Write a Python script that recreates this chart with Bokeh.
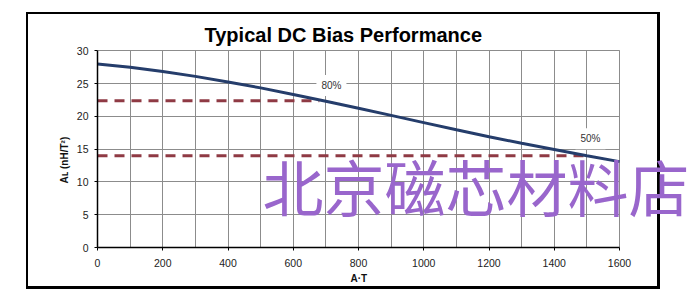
from bokeh.plotting import figure
from bokeh.models import (Range1d, SingleIntervalTicker, Label, Title,
                          ColumnDataSource)
from bokeh.embed import file_html
from bokeh.resources import INLINE

# ---- data ----
at_values = [0, 100, 200, 300, 400, 500, 600, 700, 800, 900, 1000,
             1100, 1200, 1300, 1400, 1500, 1600]
al_values = [28.0, 27.5, 26.85, 26.1, 25.25, 24.35, 23.35, 22.3, 21.25, 20.15,
             19.05, 17.95, 16.9, 15.9, 14.95, 14.0, 13.1]
ref_names = ["80%", "50%"]
ref_levels = [22.4, 14.0]
ref_ends = [680, 1500]
title_text = "Typical DC Bias Performance"
x_title = "A·T"
y_title = "A\u029f (nH/T²)"
watermark = "北京磁芯材料店"

X_MAX, Y_MAX = 1600, 30
FONT = "Liberation Sans"

W, H = 692, 293
LEFT, TOP, BOTTOM = 97, 49, 46
PLOT_PX = 522                      # pixel width of the 0..1600 plot area
frame_w = W - LEFT
x_end = X_MAX * frame_w / PLOT_PX  # frame continues to the right edge
y_end = Y_MAX + 0.2

p = figure(width=W, height=H, output_backend="svg", toolbar_location=None,
           x_range=Range1d(0, x_end), y_range=Range1d(0, y_end),
           min_border_left=LEFT, min_border_right=0,
           min_border_top=TOP, min_border_bottom=BOTTOM,
           background_fill_color=None, border_fill_color=None)
p.outline_line_color = None

# outer chart border drawn on the page element
p.styles = {
    "background": (
        "linear-gradient(#000,#000) 26px 12px / 633px 2px no-repeat,"
        "linear-gradient(#000,#000) 26px 286px / 634px 3px no-repeat,"
        "linear-gradient(#000,#000) 26px 12px / 2px 276px no-repeat,"
        "linear-gradient(#000,#000) 657px 12px / 3px 277px no-repeat,"
        "#ffffff"
    )
}

p.title.text = title_text
p.title.align = "left"
p.title.offset = 107
p.title.text_font = FONT
p.title.text_font_size = "20px"
p.title.text_font_style = "bold"
p.title.text_color = "black"
p.title.standoff = 8

p.xaxis.ticker = SingleIntervalTicker(interval=200, num_minor_ticks=2)
p.yaxis.ticker = SingleIntervalTicker(interval=5, num_minor_ticks=0)
p.xaxis.bounds = (0, X_MAX)
p.yaxis.bounds = (0, Y_MAX)

for ax in (p.xaxis[0], p.yaxis[0]):
    ax.axis_line_color = "black"
    ax.axis_line_width = 1.5
    ax.major_tick_line_color = "black"
    ax.major_tick_out = 3
    ax.major_tick_in = 0
    ax.minor_tick_out = 0
    ax.minor_tick_in = 0
    ax.major_label_text_font = FONT
    ax.major_label_text_font_size = "10.5px"
    ax.major_label_text_color = "#222222"

p.xaxis.major_label_standoff = 8
p.yaxis.major_label_standoff = 6

# axis titles placed against the 0..1600 / 0..30 plot area
p.add_layout(Title(text=x_title, align="left", offset=253, standoff=2,
                   text_font=FONT, text_font_size="10px",
                   text_font_style="bold", text_color="#111111"), "below")
p.add_layout(Title(text=y_title, align="left", offset=64, standoff=8,
                   text_font=FONT, text_font_size="10px",
                   text_font_style="bold", text_color="#111111"), "left")

GRID = "#8c8c8c"
p.xgrid.grid_line_color = GRID
p.xgrid.minor_grid_line_color = GRID
p.xgrid.bounds = (0, X_MAX)
p.xgrid.cross_bounds = (0, Y_MAX)
p.ygrid.grid_line_color = GRID
p.ygrid.bounds = (0, Y_MAX)
p.ygrid.cross_bounds = (0, X_MAX)

# reference lines
src = ColumnDataSource(dict(x0=[0] * len(ref_levels), x1=ref_ends,
                            y=ref_levels))
p.segment(x0="x0", y0="y", x1="x1", y1="y", source=src,
          line_color="#8f3a44", line_width=3, line_dash="10 7")

# curve
p.line(at_values, al_values, line_color="#253d6b", line_width=3)

# percentage labels
for name, lx, ly in zip(ref_names, [717, 1511], [24.7, 16.6]):
    p.add_layout(Label(x=lx, y=ly, text=name, text_align="center",
                       text_baseline="middle", text_font=FONT,
                       text_font_size="10px", text_color="#333333",
                       background_fill_color="white", padding=5))

# watermark
p.add_layout(Label(x=506, y=9.4, text=watermark, text_align="left",
                   text_baseline="middle", text_font="Noto Sans CJK SC",
                   text_font_size="61px", text_color="#9966cc"))

open("out.html", "w").write(file_html(p, INLINE))
